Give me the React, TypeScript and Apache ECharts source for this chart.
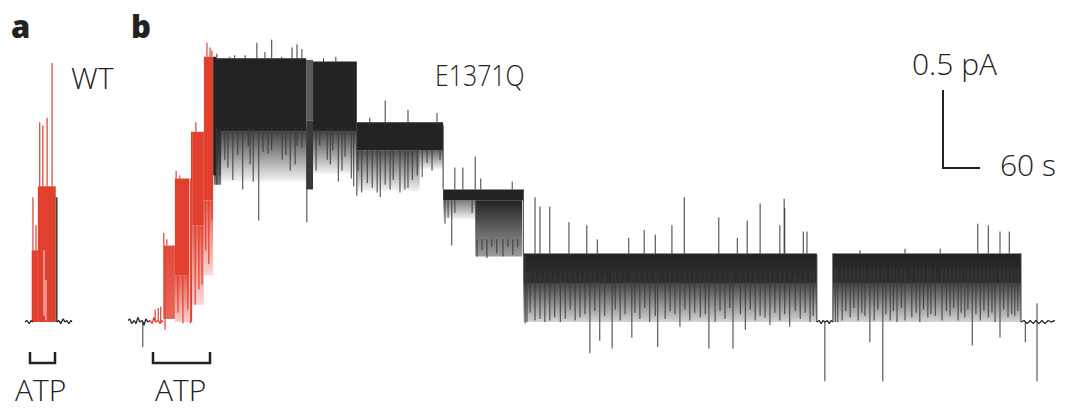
import React, { useEffect, useRef } from "react";
import * as echarts from "echarts";

// ---- Panel a (WT): time (s) from start of window, current (pA) ----
const wtBaseLeft: number[][] = [[8, 0], [11, 0.01], [15, -0.01], [18, 0.01], [21, 0]];
const wtBaseRight: number[][] = [[60, 0], [63, 0.01], [66, -0.01], [70, 0.02], [73, 0], [76, 0.01], [79, -0.01], [83, 0.01], [84, 0]];
// bands: [tStart, tEnd, top pA, bottom pA, density at top, density at bottom]
const wtRedBands: number[][] = [[19, 29, 0.46, 0.0, 1, 1], [29, 58, 0.87, 0.0, 1, 1]];
const wtBlackBands: number[][] = [[58, 61, 0.8, 0.0, 0.85, 0.85]];
// spikes: [t, from pA, to pA]
const wtRedSpikes: number[][] = [[21, 0.46, 0.8], [32, 0.87, 1.28], [37, 0.87, 1.26], [44, 0.87, 1.31], [52, 0.87, 1.66], [26, 0.46, 0.62]];
const wtGaps: number[][] = [[39, 0.46, 0.04], [42, 0.27, 0.01]];

// ---- Panel b (E1371Q) ----
const mutBaseStart: number[][] = [[13, 0.01], [16, 0.02], [19, -0.01], [23, 0.01], [26, -0.01], [29, 0.03], [32, 0], [36, 0.01], [39, -0.02], [42, 0.02], [45, 0], [49, 0.01]];
const mutRedBase: number[][] = [[49, 0.01], [52, -0.01], [55, 0.03], [58, 0], [62, 0.01], [65, -0.01], [68, 0.01], [70, 0]];
const mutBaseMid: number[][] = [[1130, 0], [1134, 0.01], [1137, -0.01], [1140, 0.01], [1143, 0], [1147, 0.01], [1150, -0.01], [1153, 0.01], [1156, 0]];
const mutBaseEnd: number[][] = [[1461, 0], [1466, 0.01], [1471, -0.01], [1476, 0.01], [1481, -0.01], [1485, 0.01], [1490, -0.01], [1495, 0.01], [1500, -0.01], [1505, 0.01], [1510, 0], [1516, 0.01]];

const mutRedBands: number[][] = [
  [89, 112, 0.3, 0.0, 0.85, 0.25], [117, 136, 0.62, 0.11, 0.85, 0.2], [136, 151, 0.78, 0.3, 0.85, 0.2],
  [70, 89, 0.49, 0.02, 0.95, 0.8], [89, 112, 0.92, 0.3, 1, 1], [117, 136, 1.22, 0.62, 1, 1], [136, 151, 1.7, 0.78, 1, 1],
];
const mutRedSpikes: number[][] = [
  [57, 0, 0.08], [62, 0, 0.09], [66, 0, 0.1], [71, 0.49, 0.57], [76, 0.49, 0.53], [91, 0.92, 0.97], [97, 0.92, 0.94],
  [123, 1.22, 1.28], [141, 1.7, 1.79], [146, 1.7, 1.76], [149, 1.7, 1.74],
  [73, 0.49, -0.05], [94, 0.3, 0.06], [102, 0.3, -0.01], [110, 0.3, 0.08], [114, 0.92, -0.01], [116, 1.22, 0],
  [122, 0.62, 0.11], [128, 0.62, 0.21], [133, 0.62, 0.24], [139, 0.78, 0.46], [144, 0.78, 0.37], [149, 0.78, 0.65],
];

const mutBlackBands: number[][] = [
  // lower, sparser parts of each conductance level
  [152, 302, 1.22, 0.9, 0.85, 0.05], [152, 164, 1.24, 0.88, 0.9, 0.6], [313, 384, 1.22, 0.95, 0.85, 0.05],
  [384, 486, 1.1, 0.84, 0.8, 0.05], [486, 524, 1.1, 0.98, 0.7, 0.05], [524, 576, 0.78, 0.66, 0.6, 0.05],
  [576, 652, 0.78, 0.42, 1, 0.45],
  [654, 1130, 0.25, 0.0, 0.85, 0.2], [1156, 1461, 0.25, 0.0, 0.85, 0.2],
  [302, 313, 1.68, 1.29, 0.75, 0.75],
  // dense open-level cores
  [151, 156, 1.7, 0.94, 1, 1], [152, 302, 1.69, 1.22, 1, 1], [302, 313, 1.29, 0.85, 0.9, 0.9], [313, 384, 1.67, 1.22, 1, 1],
  [384, 524, 1.28, 1.1, 1, 1], [524, 654, 0.85, 0.78, 1, 1],
  [654, 1130, 0.44, 0.25, 1, 0.95], [1156, 1461, 0.44, 0.25, 1, 0.95],
];

const mutBlackSpikes: number[][] = [
  [37, 0, -0.16],
  // level 1 closures
  [157, 1.24, 0.88], [162, 1.24, 0.94], [170, 1.24, 1.04], [175, 1.24, 0.99], [183, 1.24, 0.91], [191, 1.24, 1.07],
  [199, 1.24, 0.85], [208, 1.24, 1.13], [211, 1.24, 1.01], [216, 1.24, 0.9], [225, 1.24, 0.65], [232, 1.24, 1.09],
  [240, 1.24, 1.08], [246, 1.24, 1.1], [255, 1.24, 1.2], [263, 1.24, 1.04], [269, 1.24, 1.07], [276, 1.24, 0.97],
  [284, 1.24, 1.01], [287, 1.24, 1.13], [295, 1.24, 1.12], [303, 1.24, 0.64], [311, 1.24, 0.85], [318, 1.24, 0.97],
  [324, 1.24, 1.13], [336, 1.24, 1.04], [341, 1.24, 1.01], [345, 1.24, 1.1], [354, 1.24, 0.9], [360, 1.24, 0.97],
  [365, 1.24, 1.06], [375, 1.24, 0.92], [379, 1.24, 0.87], [384, 1.24, 0.81],
  // level 1 openings
  [157, 1.68, 1.72], [178, 1.68, 1.7], [203, 1.68, 1.71], [222, 1.68, 1.79], [235, 1.68, 1.73], [246, 1.68, 1.81],
  [279, 1.68, 1.76], [287, 1.68, 1.78], [295, 1.68, 1.75], [186, 1.68, 1.71], [262, 1.68, 1.7], [330, 1.66, 1.69],
  [350, 1.66, 1.7],
  // level 2
  [386, 1.1, 0.97], [392, 1.1, 0.83], [401, 1.1, 0.89], [409, 1.1, 0.86], [417, 1.1, 0.83], [422, 1.1, 0.8],
  [430, 1.1, 0.88], [438, 1.1, 0.85], [443, 1.1, 0.91], [454, 1.1, 0.83], [462, 1.1, 0.85], [467, 1.1, 0.86],
  [474, 1.1, 0.91], [482, 1.1, 0.94], [490, 1.1, 0.93], [498, 1.1, 1.02], [506, 1.1, 0.97], [519, 1.1, 1.04],
  [405, 1.26, 1.31], [430, 1.26, 1.42], [467, 1.26, 1.36], [514, 1.26, 1.34],
  [524, 1.26, 0.85],
  // level 3
  [527, 0.78, 0.63], [532, 0.78, 0.67], [538, 0.78, 0.49], [543, 0.78, 0.7], [571, 0.78, 0.7],
  [579, 0.53, 0.42], [587, 0.53, 0.46], [595, 0.53, 0.41], [603, 0.53, 0.48], [611, 0.53, 0.44], [621, 0.53, 0.42],
  [629, 0.53, 0.48], [637, 0.53, 0.43], [645, 0.53, 0.48],
  [543, 0.85, 0.99], [556, 0.85, 0.99], [576, 0.85, 1.06], [585, 0.85, 0.92], [636, 0.85, 0.9],
  [654, 0.85, 0.43], [657, 0.43, -0.01],
  // level 4
  [762, 0.32, -0.2], [778, 0.32, -0.12], [798, 0.32, -0.17], [830, 0.32, -0.1], [872, 0.32, -0.16], [908, 0.32, -0.03],
  [955, 0.32, -0.17], [994, 0.32, -0.17], [1014, 0.32, -0.05], [1054, 0.32, -0.02], [1086, 0.32, -0.03],
  [660, 0.32, 0], [673, 0.32, 0.01], [681, 0.32, 0.02], [689, 0.32, 0], [697, 0.32, 0.01], [705, 0.32, 0.03],
  [714, 0.32, 0], [722, 0.32, 0.02], [738, 0.32, 0.01], [746, 0.32, 0.03], [811, 0.32, 0.01], [843, 0.32, 0.02],
  [859, 0.32, 0], [884, 0.32, 0.02], [924, 0.32, 0.01], [941, 0.32, 0.03], [965, 0.32, 0], [981, 0.32, 0.02],
  [1030, 0.32, 0.01], [1046, 0.32, 0.03], [1070, 0.32, 0.01], [1103, 0.32, 0.02], [1119, 0.32, 0],
  [665, 0.32, 0.06], [730, 0.32, 0.08], [754, 0.32, 0.05], [770, 0.32, 0.07], [786, 0.32, 0.04], [803, 0.32, 0.08],
  [819, 0.32, 0.05], [835, 0.32, 0.06], [851, 0.32, 0.09], [868, 0.32, 0.04], [892, 0.32, 0.07], [900, 0.32, 0.05],
  [916, 0.32, 0.08], [932, 0.32, 0.06], [949, 0.32, 0.05], [973, 0.32, 0.07], [989, 0.32, 0.09], [1006, 0.32, 0.05],
  [1022, 0.32, 0.08], [1038, 0.32, 0.04], [1062, 0.32, 0.06], [1078, 0.32, 0.05], [1095, 0.32, 0.07], [1111, 0.32, 0.06],
  [1124, 0.32, 0.04],
  [673, 0.43, 0.8], [681, 0.43, 0.74], [697, 0.43, 0.74], [728, 0.43, 0.64], [757, 0.43, 0.62], [774, 0.43, 0.53],
  [825, 0.43, 0.54], [850, 0.43, 0.59], [868, 0.43, 0.56], [895, 0.43, 0.62], [915, 0.43, 0.8], [971, 0.43, 0.67],
  [1001, 0.43, 0.54], [1017, 0.43, 0.65], [1038, 0.43, 0.76], [1070, 0.43, 0.62], [1077, 0.43, 0.79], [1078, 0.43, 0.73],
  [1108, 0.43, 0.58], [1114, 0.43, 0.58],
  [1130, 0.43, 0], [1143, 0, -0.38], [1156, 0, 0.44],
  // level 4b
  [1160, 0.35, 0], [1164, 0.35, 0], [1171, 0.35, 0.01], [1184, 0.35, 0.03], [1197, 0.35, 0.01], [1208, 0.35, 0.04],
  [1216, 0.35, -0.13], [1223, 0.35, 0.01], [1237, 0.35, -0.38], [1249, 0.35, 0.01], [1260, 0.35, 0], [1273, 0.35, 0.01],
  [1284, 0.35, 0.03], [1297, 0.35, 0], [1310, 0.35, 0.03], [1322, 0.35, 0.04], [1333, 0.35, 0.01], [1346, 0.35, 0.04],
  [1359, 0.35, 0.01], [1370, 0.35, 0.03], [1382, 0.35, -0.15], [1395, 0.35, 0.01], [1408, 0.35, 0.03], [1419, 0.35, 0],
  [1427, 0.35, -0.1], [1440, 0.35, 0.03], [1451, 0.35, 0.04],
  [1177, 0.35, 0.07], [1190, 0.35, 0.09], [1203, 0.35, 0.06], [1229, 0.35, 0.08], [1242, 0.35, 0.05], [1254, 0.35, 0.07],
  [1267, 0.35, 0.09], [1291, 0.35, 0.06], [1303, 0.35, 0.08], [1315, 0.35, 0.05], [1340, 0.35, 0.07], [1352, 0.35, 0.09],
  [1364, 0.35, 0.06], [1375, 0.35, 0.08], [1388, 0.35, 0.05], [1401, 0.35, 0.07], [1414, 0.35, 0.06], [1433, 0.35, 0.08],
  [1446, 0.35, 0.05], [1456, 0.35, 0.07],
  [1200, 0.44, 0.46], [1273, 0.44, 0.47], [1330, 0.44, 0.47], [1391, 0.44, 0.63], [1408, 0.44, 0.62], [1427, 0.44, 0.58],
  [1442, 0.44, 0.58],
  [1461, 0.44, 0], [1468, 0, -0.13], [1487, 0.12, -0.38],
];

const RED = "226,64,47";
const BLACK = "35,35,35";
const FONT = '"Open Sans", "Noto Sans", sans-serif';

function bandSeries(data: number[][], rgb: string, axis: number) {
  return {
    type: "custom",
    coordinateSystem: "cartesian2d",
    xAxisIndex: axis,
    yAxisIndex: axis,
    silent: true,
    data,
    renderItem: (_p: any, api: any) => {
      const a = api.coord([api.value(0), api.value(2)]);
      const b = api.coord([api.value(1), api.value(3)]);
      const o1 = api.value(4);
      const o2 = api.value(5);
      return {
        type: "rect",
        shape: { x: a[0], y: a[1], width: b[0] - a[0], height: b[1] - a[1] },
        style: {
          fill: new echarts.graphic.LinearGradient(0, 0, 0, 1, [
            { offset: 0, color: `rgba(${rgb},${o1})` },
            { offset: 1, color: `rgba(${rgb},${o2})` },
          ]),
        },
      };
    },
  };
}

function spikeSeries(data: number[][], color: string, axis: number, width = 1) {
  return {
    type: "custom",
    coordinateSystem: "cartesian2d",
    xAxisIndex: axis,
    yAxisIndex: axis,
    silent: true,
    data,
    renderItem: (_p: any, api: any) => {
      const a = api.coord([api.value(0), api.value(1)]);
      const b = api.coord([api.value(0), api.value(2)]);
      return {
        type: "line",
        shape: { x1: a[0], y1: a[1], x2: b[0], y2: b[1] },
        style: { stroke: color, lineWidth: width },
      };
    },
  };
}

function lineSeries(data: number[][], color: string, axis: number) {
  return {
    type: "line",
    xAxisIndex: axis,
    yAxisIndex: axis,
    data,
    showSymbol: false,
    silent: true,
    lineStyle: { color, width: 1.3 },
  };
}

function label(text: string, x: number, y: number, size: number, weight: any, sx = 1, sy = 1) {
  return {
    type: "text",
    x,
    y,
    scaleX: sx,
    scaleY: sy,
    style: {
      text,
      fill: "#222",
      fontSize: size,
      fontWeight: weight,
      fontFamily: FONT,
      textAlign: "left",
      textVerticalAlign: "middle",
    },
  };
}

export default function App() {
  const ref = useRef<HTMLDivElement>(null);
  useEffect(() => {
    if (!ref.current) return;
    const chart = echarts.init(ref.current, undefined, { renderer: "svg" });
    const yAxisBase = { type: "value", min: -0.551, max: 2.064, show: false };
    chart.setOption({
      animation: false,
      backgroundColor: "#fff",
      grid: [
        { left: 20, top: 0, width: 60, height: 408 },
        { left: 120, top: 0, width: 945, height: 408 },
      ],
      xAxis: [
        { type: "value", gridIndex: 0, min: 0, max: 97.3, show: false },
        { type: "value", gridIndex: 1, min: 0, max: 1532.4, show: false },
      ],
      yAxis: [
        { ...yAxisBase, gridIndex: 0 },
        { ...yAxisBase, gridIndex: 1 },
      ],
      series: [
        bandSeries(wtRedBands, RED, 0),
        bandSeries(wtBlackBands, BLACK, 0),
        spikeSeries(wtGaps, "rgba(255,255,255,0.55)", 0, 1.5),
        spikeSeries(wtRedSpikes, "rgb(" + RED + ")", 0, 1.2),
        lineSeries(wtBaseLeft, "#232323", 0),
        lineSeries(wtBaseRight, "#232323", 0),
        bandSeries(mutBlackBands, BLACK, 1),
        spikeSeries(mutBlackSpikes, "#3a3a3a", 1, 1),
        bandSeries(mutRedBands, RED, 1),
        spikeSeries(mutRedSpikes, "rgb(" + RED + ")", 1, 1.2),
        lineSeries(mutBaseStart, "#232323", 1),
        lineSeries(mutRedBase, "rgb(" + RED + ")", 1),
        lineSeries(mutBaseMid, "#232323", 1),
        lineSeries(mutBaseEnd, "#232323", 1),
      ],
      graphic: {
        elements: [
          label("a", 11, 26, 31, 800),
          label("b", 131, 26, 31, 800),
          label("WT", 71, 77, 30, 300),
          label("E1371Q", 435, 75, 30, 300, 0.83),
          label("ATP", 15, 389, 30, 300),
          label("ATP", 155, 389, 30, 300),
          label("0.5 pA", 912, 63, 30, 300),
          label("60 s", 1000, 164, 30, 300),
          { type: "polyline", shape: { points: [[943, 90], [943, 168], [980, 168]] }, style: { stroke: "#222", lineWidth: 2, fill: null } },
          { type: "polyline", shape: { points: [[30, 352], [30, 363], [55, 363], [55, 352]] }, style: { stroke: "#222", lineWidth: 2.5, fill: null } },
          { type: "polyline", shape: { points: [[153, 352], [153, 363], [210, 363], [210, 352]] }, style: { stroke: "#222", lineWidth: 2.5, fill: null } },
        ],
      },
    });
    return () => chart.dispose();
  }, []);
  return <div ref={ref} style={{ position: "fixed", left: 0, top: 0, width: 1065, height: 408 }} />;
}
